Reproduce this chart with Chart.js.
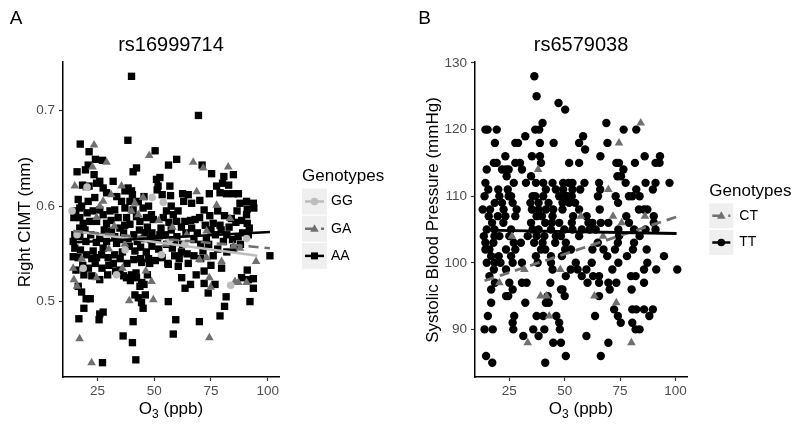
<!DOCTYPE html>
<html>
<head>
<meta charset="utf-8">
<script src="https://cdn.jsdelivr.net/npm/chart.js@4"></script>
<style>
  body { margin: 0; background: #fff; }
  canvas { position: absolute; top: 0; }
  #panelA { left: 0; }
  #panelB { left: 400px; }
</style>
</head>
<body>
<canvas id="panelA" width="400" height="433"></canvas>
<canvas id="panelB" width="400" height="433"></canvas>
<script>
// ---- Data ----
const o3Ticks = [25, 50, 75, 100];
const cimtTicks = [0.5, 0.6, 0.7];
const sbpTicks = [90, 100, 110, 120, 130];

// Panel A: rs16999714, O3 (ppb) vs right CIMT (mm)
const aaPoints = [
  [40.0,0.736],[69.5,0.695],[38.4,0.669],[17.4,0.665],[50.4,0.658],[21.3,0.657],[27.2,0.648],[59.9,0.649],
  [56.3,0.643],[20.9,0.643],[24.1,0.649],[19.7,0.638],[42.2,0.640],[40.7,0.636],[16.0,0.636],[71.1,0.643],
  [75.3,0.634],[80.7,0.631],[84.9,0.633],[80.1,0.624],[82.8,0.622],[77.5,0.621],[79.0,0.614],[62.5,0.613],
  [65.0,0.612],[70.1,0.606],[74.3,0.613],[81.9,0.613],[84.9,0.613],[87.1,0.613],[87.8,0.603],[90.7,0.605],
  [93.7,0.603],[91.0,0.597],[93.9,0.598],[90.7,0.591],[91.0,0.582],[91.9,0.577],[51.0,0.628],[52.5,0.630],
  [51.7,0.621],[56.9,0.621],[57.2,0.611],[51.3,0.617],[23.5,0.633],[24.6,0.624],[26.0,0.626],[21.3,0.621],
  [18.4,0.622],[31.9,0.626],[27.5,0.619],[29.0,0.614],[23.8,0.609],[20.9,0.605],[16.5,0.607],[17.2,0.598],
  [15.4,0.595],[14.6,0.588],[17.2,0.588],[20.4,0.593],[23.1,0.595],[26.0,0.596],[27.5,0.591],[24.6,0.584],
  [29.0,0.582],[21.6,0.584],[18.7,0.582],[17.2,0.577],[15.0,0.570],[17.2,0.568],[19.9,0.563],[14.3,0.563],
  [15.0,0.556],[17.5,0.554],[14.3,0.547],[16.5,0.546],[20.1,0.549],[23.1,0.553],[24.6,0.546],[26.8,0.549],
  [29.7,0.546],[32.6,0.549],[27.5,0.556],[26.0,0.568],[29.0,0.563],[32.6,0.568],[33.4,0.561],[31.2,0.574],
  [34.9,0.577],[34.1,0.588],[32.6,0.596],[35.6,0.605],[38.5,0.619],[37.1,0.616],[40.0,0.616],[40.4,0.612],
  [39.3,0.605],[37.1,0.598],[40.7,0.596],[42.2,0.589],[37.8,0.588],[39.3,0.581],[43.7,0.584],[46.6,0.588],
  [48.8,0.591],[45.1,0.598],[49.6,0.586],[54.0,0.588],[55.4,0.595],[58.4,0.591],[59.9,0.584],[66.5,0.603],
  [36.5,0.572],[38.5,0.566],[41.0,0.570],[43.5,0.575],[45.5,0.566],[47.0,0.578],[49.0,0.572],[51.5,0.566],
  [53.0,0.577],[55.0,0.570],[57.5,0.575],[60.0,0.568],[62.0,0.578],[64.0,0.572],[66.5,0.577],[68.0,0.586],
  [70.0,0.588],[72.5,0.580],[75.0,0.575],[77.0,0.570],[79.5,0.575],[82.0,0.570],[84.5,0.565],[87.0,0.568],
  [89.0,0.572],[91.5,0.570],[67.5,0.565],[70.5,0.560],[73.0,0.566],[62.5,0.560],[58.0,0.556],[55.5,0.560],
  [52.0,0.555],[49.0,0.558],[46.5,0.552],[44.0,0.557],[41.5,0.553],[39.0,0.558],[36.0,0.552],[35.0,0.545],
  [38.0,0.540],[41.0,0.544],[44.5,0.541],[47.5,0.545],[50.5,0.543],[53.5,0.546],[56.0,0.540],[30.0,0.538],
  [27.0,0.535],[24.0,0.540],[21.0,0.535],[18.5,0.538],[15.5,0.533],[19.0,0.528],[22.5,0.527],[26.0,0.523],
  [29.5,0.528],[33.0,0.532],[36.5,0.527],[39.5,0.522],[42.0,0.530],[44.5,0.520],[47.0,0.528],[16.5,0.516],
  [18.0,0.510],[20.0,0.503],[21.8,0.503],[19.0,0.493],[16.8,0.482],[26.0,0.487],[27.5,0.489],[25.7,0.481],
  [27.2,0.436],[41.9,0.439],[36.3,0.464],[40.4,0.457],[40.7,0.479],[43.0,0.504],[44.4,0.499],[45.1,0.493],
  [41.5,0.507],[46.1,0.507],[43.7,0.516],[45.5,0.518],[42.2,0.525],[40.0,0.528],[37.8,0.525],[34.9,0.533],
  [58.4,0.466],[59.5,0.481],[69.9,0.479],[79.0,0.485],[81.0,0.495],[81.7,0.505],[92.2,0.500],[93.7,0.514],
  [93.7,0.524],[91.5,0.523],[91.0,0.533],[56.2,0.500],[56.2,0.539],[60.6,0.537],[62.1,0.525],[66.0,0.518],
  [63.6,0.514],[72.0,0.519],[76.8,0.518],[73.8,0.509],[79.7,0.535],[101.0,0.548],[65.0,0.540],[67.5,0.548],
  [70.5,0.545],[76.0,0.548],[82.0,0.552],[85.0,0.556],[88.0,0.560],[62.0,0.552],[59.0,0.548],[72.0,0.532],
  [75.0,0.538],[68.5,0.528],[88.5,0.525],[63.5,0.584],[60.5,0.595],[57.5,0.600],[63.0,0.605],[47.5,0.600],
  [53.5,0.612],[45.5,0.610],[43.0,0.605],[72.0,0.596],[74.5,0.590],[78.0,0.595],[81.0,0.590],[84.0,0.587],
  [86.5,0.595],[88.5,0.585],[76.0,0.582],[79.0,0.580],
  [19.5,0.575],[22.0,0.570],[24.5,0.562],[28.0,0.575],[31.0,0.585],[30.5,0.595],[35.5,0.565],[37.0,0.580],
  [42.5,0.563],[46.0,0.572],[48.5,0.565],[52.5,0.570],[56.5,0.583],[59.0,0.562],[61.0,0.545],[64.5,0.550],
  [66.0,0.585],[69.0,0.572],[71.5,0.553],[74.0,0.560],[78.0,0.555],[80.5,0.563],[83.0,0.578],[86.0,0.583],
  [44.0,0.545],[32.0,0.540],[22.5,0.545],[18.0,0.600],[33.5,0.610],[48.0,0.540]
];
const gaPoints = [
  [23.5,0.664],[47.8,0.653],[67.2,0.646],[71.6,0.640],[82.6,0.641],[29.0,0.646],[22.8,0.641],[15.0,0.621],
  [35.6,0.621],[41.5,0.603],[20.1,0.619],[68.7,0.615],[77.5,0.601],[83.4,0.587],[73.1,0.574],[45.1,0.609],
  [24.6,0.588],[27.5,0.605],[32.4,0.579],[43.0,0.591],[64.3,0.570],[84.9,0.558],[87.8,0.556],[94.9,0.542],
  [69.9,0.544],[73.1,0.546],[79.7,0.542],[74.3,0.525],[74.9,0.515],[85.6,0.521],[87.1,0.520],[90.7,0.520],
  [14.3,0.535],[14.6,0.523],[16.0,0.516],[24.6,0.525],[36.0,0.535],[46.3,0.532],[48.8,0.521],[17.1,0.461],
  [22.4,0.436],[74.3,0.462],[49.6,0.502],[39.0,0.501],[18.0,0.545],[30.0,0.555],[37.0,0.560],[52.0,0.585],
  [58.0,0.578],[40.0,0.595],[26.0,0.600],[31.0,0.612],[55.0,0.560]
];
const ggPoints = [
  [13.8,0.595],[20.4,0.620],[49.1,0.609],[54.0,0.604],[18.7,0.535],[33.4,0.528],[53.2,0.549],[63.5,0.560],
  [83.7,0.517],[90.7,0.566],[37.2,0.554],[16.0,0.570],[57.0,0.565]
];
const aaFit = [[14.0,0.562],[101.0,0.573]];
const gaFit = [[14.3,0.574],[101.0,0.556]];
const ggFit = [[14.3,0.574],[95.5,0.548]];

// Panel B: rs6579038, O3 (ppb) vs systolic blood pressure (mmHg)
const ttPoints = [
  [36.3,128],[37.3,125],[47.2,124],[50.2,123],[40.0,121],[68.8,121],
  [14.2,120],[15.2,120],[19.3,120],[36.7,120],[38.5,120],[76.6,120],[82.3,120],[32.2,119],[58.3,119],
  [18.5,118],[27.7,118],[28.9,118],[38.8,118],[45.0,118],[56.5,118],[69.3,118],[59.2,117],
  [23.2,116],[35.2,116],[38.8,116],[66.1,116],[86.1,116],[93.0,116],
  [18.0,115],[19.3,115],[27.7,115],[29.8,115],[39.3,115],[52.0,115],[56.5,115],[73.3,115],[74.5,115],
  [81.7,115],[91.0,115],[92.8,115],
  [14.8,114],[21.7,114],[23.5,114],[24.7,114],[30.7,114],[76.5,114],[23.8,113],[34.8,113],[73.8,113],[75.4,113],
  [14.2,112],[27.0,112],[32.5,112],[37.0,112],[40.3,112],[44.5,112],[49.3,112],[51.7,112],[53.5,112],
  [58.9,112],[65.5,112],[77.5,112],[86.5,112],[91.0,112],[97.3,112],
  [15.5,111],[20.0,111],[24.3,111],[41.5,111],[46.0,111],[49.3,111],[53.5,111],[57.0,111],[66.0,111],
  [82.3,111],[89.8,111],
  [13.8,110],[20.5,110],[24.7,110],[25.8,110],[35.5,110],[36.7,110],[40.3,110],[47.5,110],[50.5,110],
  [51.3,110],[53.2,110],[65.0,110],[73.0,110],[79.0,110],[80.5,110],[83.8,110],
  [18.4,109],[21.7,109],[26.5,109],[34.5,109],[38.2,109],[42.7,109],[49.0,109],[52.0,109],[54.7,109],[74.1,109],
  [13.0,108],[16.3,108],[22.4,108],[28.3,108],[35.2,108],[38.2,108],[41.5,108],[44.8,108],[49.0,108],
  [56.5,108],[65.8,108],[83.5,108],[85.8,108],[87.3,108],
  [15.7,107],[19.8,107],[23.2,107],[27.7,107],[37.3,107],[39.7,107],[44.5,107],[53.8,107],[59.9,107],
  [77.8,107],[90.2,107],
  [17.2,106],[22.3,106],[34.8,106],[41.2,106],[44.2,106],[47.5,106],[53.2,106],[60.7,106],[62.5,106],
  [66.3,106],[69.7,106],[79.0,106],[90.2,106],
  [14.8,105],[18.3,105],[25.8,105],[35.5,105],[38.2,105],[43.8,105],[49.8,105],[53.5,105],[57.7,105],
  [61.3,105],[64.0,105],[74.2,105],[81.3,105],[86.5,105],[91.0,105],
  [13.5,104],[18.3,104],[20.5,104],[25.0,104],[33.3,104],[37.3,104],[40.8,104],[46.0,104],[48.3,104],
  [56.5,104],[74.5,104],[83.8,104],
  [14.2,103],[17.8,103],[27.0,103],[30.2,103],[36.2,103],[40.0,103],[45.7,103],[50.5,103],[64.9,103],
  [74.0,103],[81.3,103],
  [14.2,102],[16.0,102],[23.5,102],[27.7,102],[39.3,102],[41.2,102],[50.2,102],[52.8,102],[62.5,102],
  [67.5,102],[72.7,102],[80.8,102],[87.0,102],
  [16.8,101],[20.2,101],[25.8,101],[37.0,101],[43.8,101],[48.7,101],[69.2,101],[78.1,101],[94.8,101],
  [14.8,100],[18.3,100],[21.0,100],[26.5,100],[30.7,100],[37.8,100],[43.8,100],[55.0,100],[62.2,100],
  [74.2,100],[87.3,100],
  [18.0,99],[23.5,99],[44.5,99],[52.7,99],[55.8,99],[59.8,99],[71.5,99],[85.8,99],[91.3,99],[100.8,99],
  [16.0,98],[50.5,98],[57.7,98],[62.8,98],[65.5,98],[79.9,98],[82.0,98],
  [18.5,97],[25.0,97],[30.7,97],[32.8,97],[43.5,97],[60.3,97],[65.5,97],[69.7,97],[73.3,97],[85.8,97],
  [16.8,96],[26.5,96],[48.3,96],[49.0,96],[70.3,96],[80.2,96],
  [23.5,95],[24.5,95],[42.3,95],[50.0,95],[65.5,95],[16.8,94],[32.2,94],[41.5,94],[42.8,94],
  [72.3,93],[80.5,93],[82.3,93],[85.8,93],[89.8,93],
  [15.3,92],[27.2,92],[37.3,92],[40.3,92],[46.2,92],[63.7,92],[74.0,92],[88.2,92],
  [26.5,91],[47.5,91],[75.3,91],[80.5,91],
  [13.8,90],[17.5,90],[26.8,90],[35.8,90],[40.8,90],[47.8,90],[82.0,90],[83.8,90],
  [31.3,89],[38.2,89],[59.8,89],[44.8,88],[48.3,88],[69.7,88],[14.5,86],[50.5,86],[66.3,86],[17.3,85],[41.2,85]
];
const ctPoints = [
  [84.3,121],[74.5,118],[38.0,114],[69.7,111],[57.3,107],[71.8,107],[86.2,107],[75.7,106],[26.2,104],
  [67.3,104],[31.8,99],[48.0,99],[20.5,97],[39.1,95],[41.8,95],[63.4,95],[73.3,94],[43.0,92],[33.3,88],[80.1,88]
];
const ttFit = [[13.8,104.9],[100.5,104.4]];
const ctFit = [[13.8,97.3],[100.5,106.9]];

// ---- Styling ----
const FONT = '"Liberation Sans", Arial, sans-serif';
const LIGHT = '#bdbdbd';
const MID = '#707070';
const DARK = '#000000';

const toXY = arr => arr.map(([x, y]) => ({ x, y }));

function pointSet(label, pts, color, style, radius, order) {
  return {
    type: 'scatter', label, data: toXY(pts), order,
    pointStyle: style, pointRadius: radius, pointHoverRadius: radius,
    backgroundColor: color, borderColor: color, pointBorderWidth: 0
  };
}

function fitLine(label, pts, color, dash, width, order) {
  return {
    type: 'line', label, data: toXY(pts), order,
    borderColor: color, borderWidth: width, borderDash: dash,
    pointRadius: 0, fill: false, tension: 0
  };
}

// Titles, axis titles and the ggplot-style legend
const decor = {
  id: 'decor',
  afterDraw(chart, args, o) {
    const ctx = chart.ctx;
    const area = chart.chartArea;
    const cx = (area.left + area.right) / 2;
    ctx.save();
    ctx.fillStyle = '#000';
    ctx.textBaseline = 'middle';
    ctx.textAlign = 'center';

    ctx.font = `19px ${FONT}`;
    ctx.fillText(o.letter, o.letterX, 19);

    ctx.font = `20px ${FONT}`;
    ctx.fillText(o.title, cx, 45);

    // y axis title
    ctx.save();
    ctx.translate(o.yTitleX, o.yTitleY);
    ctx.rotate(-Math.PI / 2);
    ctx.font = `17px ${FONT}`;
    ctx.fillText(o.yTitle, 0, 0);
    ctx.restore();

    // x axis title: O3 (ppb) with subscript
    ctx.textAlign = 'left';
    ctx.textBaseline = 'alphabetic';
    ctx.font = `17px ${FONT}`;
    const wO = ctx.measureText('O').width;
    const wRest = ctx.measureText(' (ppb)').width;
    ctx.font = `12px ${FONT}`;
    const wSub = ctx.measureText('3').width;
    let x0 = cx - (wO + wSub + wRest) / 2;
    const base = 414;
    ctx.font = `17px ${FONT}`;
    ctx.fillText('O', x0, base);
    ctx.font = `12px ${FONT}`;
    ctx.fillText('3', x0 + wO, base + 4);
    ctx.font = `17px ${FONT}`;
    ctx.fillText(' (ppb)', x0 + wO + wSub, base);

    // legend
    const lg = o.legend;
    ctx.textBaseline = 'middle';
    ctx.font = `17px ${FONT}`;
    ctx.fillText('Genotypes', lg.x, lg.titleY);
    lg.items.forEach((it, i) => {
      const top = lg.boxTop + i * (lg.boxH + lg.gap);
      const my = top + lg.boxH / 2;
      const mx = lg.x + lg.boxW / 2;
      ctx.fillStyle = '#efefef';
      ctx.fillRect(lg.x, top, lg.boxW, lg.boxH);
      ctx.strokeStyle = it.color;
      ctx.lineWidth = 2.5;
      ctx.setLineDash(it.dash);
      ctx.beginPath();
      ctx.moveTo(lg.x + 3, my);
      ctx.lineTo(lg.x + lg.boxW - 3, my);
      ctx.stroke();
      ctx.setLineDash([]);
      ctx.fillStyle = it.color;
      ctx.beginPath();
      if (it.style === 'circle') {
        ctx.arc(mx, my, 3.8, 0, Math.PI * 2);
      } else if (it.style === 'triangle') {
        ctx.moveTo(mx, my - 4.5);
        ctx.lineTo(mx + 4.3, my + 3);
        ctx.lineTo(mx - 4.3, my + 3);
        ctx.closePath();
      } else {
        ctx.rect(mx - 3.5, my - 3.5, 7, 7);
      }
      ctx.fill();
      ctx.fillStyle = '#000';
      ctx.font = `14px ${FONT}`;
      ctx.fillText(it.label, lg.labelX, my);
    });
    ctx.restore();
  }
};

function axisX(min, max, ticks) {
  return {
    type: 'linear', min, max,
    afterBuildTicks: s => { s.ticks = ticks.map(v => ({ value: v })); },
    afterFit: s => { s.height = 56; },
    ticks: { color: '#4d4d4d', font: { family: FONT, size: 13.5 }, padding: 2, callback: v => String(v) },
    grid: { drawOnChartArea: false, tickLength: 4, tickColor: '#333', tickWidth: 1.2 },
    border: { display: true, color: '#000', width: 1.5 }
  };
}

function axisY(min, max, ticks, width, fmt) {
  return {
    type: 'linear', min, max,
    afterBuildTicks: s => { s.ticks = ticks.map(v => ({ value: v })); },
    afterFit: s => { s.width = width; },
    ticks: { color: '#4d4d4d', font: { family: FONT, size: 13.5 }, padding: 4, callback: fmt },
    grid: { drawOnChartArea: false, tickLength: 4, tickColor: '#333', tickWidth: 1.2 },
    border: { display: true, color: '#000', width: 1.5 }
  };
}

function makeChart(id, datasets, scales, padRight, decorOpts) {
  return new Chart(document.getElementById(id), {
    type: 'scatter',
    data: { datasets },
    plugins: [decor],
    options: {
      responsive: false,
      animation: false,
      devicePixelRatio: 1,
      layout: { padding: { left: 0, top: 62, right: padRight, bottom: 0 } },
      scales,
      plugins: {
        legend: { display: false },
        tooltip: { enabled: false },
        decor: decorOpts
      }
    }
  });
}

// Panel A
makeChart('panelA', [
  fitLine('AA fit', aaFit, DARK, [], 2.5, 0),
  fitLine('GA fit', gaFit, MID, [10, 6], 2.5, 1),
  fitLine('GG fit', ggFit, LIGHT, [], 2.5, 2),
  pointSet('GG', ggPoints, LIGHT, 'circle', 3.8, 3),
  pointSet('GA', gaPoints, MID, 'triangle', 5, 4),
  pointSet('AA', aaPoints, DARK, 'rect', 5.2, 5)
], {
  x: axisX(9.8, 105, o3Ticks),
  y: axisY(0.421, 0.751, cimtTicks, 63, v => v.toFixed(1))
}, 121, {
  letter: 'A', letterX: 16, title: 'rs16999714',
  yTitle: 'Right CIMT (mm)', yTitleX: 25, yTitleY: 222,
  legend: {
    x: 302, titleY: 176, boxTop: 188.5, boxH: 26, gap: 1.2, boxW: 25, labelX: 331,
    items: [
      { label: 'GG', color: LIGHT, dash: [], style: 'circle' },
      { label: 'GA', color: MID, dash: [10, 6], style: 'triangle' },
      { label: 'AA', color: DARK, dash: [], style: 'rect' }
    ]
  }
});

// Panel B
makeChart('panelB', [
  fitLine('TT fit', ttFit, DARK, [], 2.8, 0),
  fitLine('CT fit', ctFit, MID, [10, 6], 2.8, 1),
  pointSet('CT', ctPoints, MID, 'triangle', 5, 2),
  pointSet('TT', ttPoints, DARK, 'circle', 4.2, 3)
], {
  x: axisX(9.5, 105.2, o3Ticks),
  y: axisY(82.85, 130.15, sbpTicks, 75, v => String(v))
}, 113, {
  letter: 'B', letterX: 24.5, title: 'rs6579038',
  yTitle: 'Systolic Blood Pressure (mmHg)', yTitleX: 33, yTitleY: 220,
  legend: {
    x: 309.3, titleY: 191, boxTop: 203.3, boxH: 25, gap: 1.7, boxW: 24, labelX: 339.3,
    items: [
      { label: 'CT', color: MID, dash: [10, 6], style: 'triangle' },
      { label: 'TT', color: DARK, dash: [], style: 'circle' }
    ]
  }
});
</script>
</body>
</html>
